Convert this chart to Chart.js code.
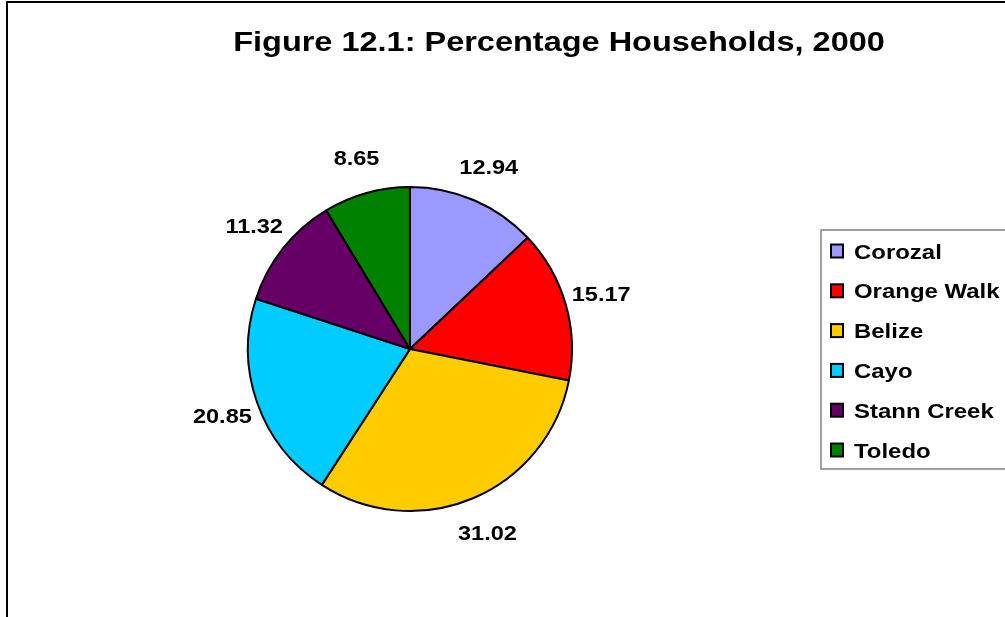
<!DOCTYPE html>
<html lang="en">
<head>
    <meta charset="UTF-8">
    <title>Figure 12.1: Percentage Households, 2000</title>
    <style>
        body {
            margin: 0;
            background-color: #ffffff;
        }
        #wrap {
            width: 1005px;
            height: 617px;
        }
    </style>
</head>
<body>
    <div id="wrap">
        <canvas id="pieChart" width="1005" height="617"></canvas>
    </div>

    <script src="https://cdn.jsdelivr.net/npm/chart.js"></script>
    <script>
        // Data
        const districts = ['Corozal', 'Orange Walk', 'Belize', 'Cayo', 'Stann Creek', 'Toledo'];
        const households = [12.94, 15.17, 31.02, 20.85, 11.32, 8.65];
        const sliceColors = ['#9999FF', '#FF0000', '#FFCC00', '#00CCFF', '#660066', '#008000'];
        const chartTitle = 'Figure 12.1: Percentage Households, 2000';

        const FONT = '"Liberation Sans", Arial, sans-serif';

        // the original's text is a bit wider than plain Arial, so stretch it sideways
        function wideText(ctx, text, x, y, sx) {
            ctx.save();
            ctx.translate(x, y);
            ctx.scale(sx, 1);
            ctx.fillText(text, 0, 0);
            ctx.restore();
        }

        // Frame, title, slice labels and legend box
        const decorations = {
            id: 'decorations',
            afterDraw(chart) {
                const ctx = chart.ctx;
                ctx.save();

                // outer frame (runs off the right and bottom)
                ctx.strokeStyle = '#000';
                ctx.lineWidth = 2;
                ctx.beginPath();
                ctx.moveTo(7, 640);
                ctx.lineTo(7, 2);
                ctx.lineTo(1020, 2);
                ctx.stroke();

                // title
                ctx.fillStyle = '#000';
                ctx.font = 'bold 28px ' + FONT;
                ctx.textAlign = 'center';
                ctx.textBaseline = 'alphabetic';
                wideText(ctx, chartTitle, 559, 51, 1.16);

                // value labels outside each slice
                ctx.font = 'bold 21px ' + FONT;
                const meta = chart.getDatasetMeta(0);
                meta.data.forEach((arc, i) => {
                    const p = arc.getProps(['x', 'y', 'startAngle', 'endAngle', 'outerRadius'], true);
                    const mid = (p.startAngle + p.endAngle) / 2;
                    const r = p.outerRadius + 37;
                    const lx = p.x + Math.cos(mid) * r;
                    const ly = p.y + Math.sin(mid) * r;
                    wideText(ctx, households[i].toFixed(2), lx, ly + 7.5, 1.12);
                });

                // legend box
                ctx.strokeStyle = '#808080';
                ctx.lineWidth = 1.5;
                ctx.strokeRect(821, 230, 200, 239);
                ctx.font = 'bold 21px ' + FONT;
                ctx.textAlign = 'left';
                districts.forEach((name, i) => {
                    const cy = 251 + i * 39.8;
                    ctx.fillStyle = sliceColors[i];
                    ctx.fillRect(831, cy - 6.5, 12, 13);
                    ctx.strokeStyle = '#000';
                    ctx.lineWidth = 2;
                    ctx.strokeRect(831, cy - 6.5, 12, 13);
                    ctx.fillStyle = '#000';
                    wideText(ctx, name, 854, cy + 7.5, 1.14);
                });

                ctx.restore();
            }
        };

        const pieChart = new Chart(document.getElementById('pieChart'), {
            type: 'pie',
            data: {
                labels: districts,
                datasets: [{
                    data: households,
                    backgroundColor: sliceColors,
                    borderColor: '#000000',
                    borderWidth: 2
                }]
            },
            options: {
                responsive: false,
                animation: false,
                layout: {
                    padding: { left: 247, top: 186, right: 432, bottom: 105 }
                },
                plugins: {
                    legend: { display: false },
                    tooltip: { enabled: false },
                    title: { display: false }
                }
            },
            plugins: [decorations]
        });
    </script>
</body>
</html>
